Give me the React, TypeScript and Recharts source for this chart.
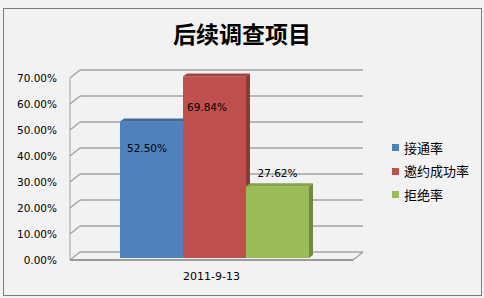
import { ComposedChart, Bar, XAxis, YAxis, CartesianGrid, LabelList } from 'recharts'

const categories = ['2011-9-13']
const seriesNames = ['接通率', '邀约成功率', '拒绝率']
const connectRate = [0.525]
const inviteRate = [0.6984]
const rejectRate = [0.2762]
const yTicks = [0, 0.1, 0.2, 0.3, 0.4, 0.5, 0.6, 0.7]

const data = categories.map((date, i) => ({
  date,
  connect: connectRate[i],
  invite: inviteRate[i],
  reject: rejectRate[i],
}))

const SERIES = [
  { key: 'connect', name: seriesNames[0], front: '#4f81bd', side: '#3b6494', top: '#3f6a9c', dx: -1.5, dy: 24.5 },
  { key: 'invite', name: seriesNames[1], front: '#c0504d', side: '#8c3a38', top: '#a04441', dx: -4.5, dy: 28.6 },
  { key: 'reject', name: seriesNames[2], front: '#9bbb59', side: '#72893f', top: '#86a34a', dx: 3, dy: -15 },
]

const WALL_DX = 10
const WALL_DY = 8
const GRID = '#a3a3a3'
const FONT = '"DejaVu Sans", sans-serif'
const CJK = '"Noto Sans CJK SC", sans-serif'

const pct = (v: number) => `${(v * 100).toFixed(2)}%`

// back wall + left wall + floor, drawn per y tick
const gridLine = (props: any) => {
  const { x1, y1, x2, index } = props
  const floorY = props.y + props.height
  const isFloor = Math.abs(y1 - floorY) < 0.5
  const by = y1 - WALL_DY
  return (
    <g key={`grid-${index}`}>
      <line x1={x1} y1={y1} x2={x1 + WALL_DX} y2={by} stroke={GRID} strokeWidth={1.5} />
      <line x1={x1 + WALL_DX} y1={by} x2={x2 + WALL_DX} y2={by} stroke={GRID} strokeWidth={1.5} />
      {isFloor && (
        <>
          <line x1={x2} y1={y1} x2={x2 + WALL_DX} y2={by} stroke={GRID} strokeWidth={1.5} />
          <line x1={x1} y1={y1} x2={x2} y2={y1} stroke="#9a9a9a" strokeWidth={2} />
        </>
      )}
    </g>
  )
}

const bar3D = (front: string, side: string, top: string) => (props: any) => {
  const { x, y, width, height } = props
  const bx = x + 3
  const by = y - 2
  const d = 4
  const e = 3
  return (
    <g>
      <rect x={bx} y={by} width={width} height={height} fill={front} />
      <polygon
        points={`${bx + width},${by} ${bx + width + d},${by - e} ${bx + width + d},${by + height - e} ${bx + width},${by + height}`}
        fill={side}
      />
      <polygon
        points={`${bx},${by} ${bx + d},${by - e} ${bx + width + d},${by - e} ${bx + width},${by}`}
        fill={top}
      />
    </g>
  )
}

const valueLabel = (dx: number, dy: number) => (props: any) => {
  const { x, y, width, value } = props
  return (
    <text
      x={x + width / 2 + dx}
      y={y + dy}
      textAnchor="middle"
      dominantBaseline="central"
      fontFamily={FONT}
      fontSize={10.5}
      fill="#000"
    >
      {pct(value)}
    </text>
  )
}

export default function App() {
  return (
    <div style={{ position: 'absolute', left: 0, top: 0, width: 484, height: 298, background: '#f2f2f2', overflow: 'hidden' }}>
      <div
        style={{
          position: 'absolute', left: 3, top: 8, width: 477, height: 286,
          border: '1px solid #7c7c7c',
        }}
      />
      <div
        style={{
          position: 'absolute', left: 0, top: 18, width: 484, height: 30, lineHeight: '30px',
          textAlign: 'center', fontFamily: CJK, fontWeight: 700, fontSize: 23, color: '#000',
        }}
      >
        后续调查项目
      </div>
      <div style={{ position: 'absolute', left: 0, top: 0 }}>
        <ComposedChart
          width={484}
          height={298}
          data={data}
          margin={{ top: 78, right: 131, left: 0, bottom: 0 }}
          barGap={0}
          barSize={63}
        >
          <CartesianGrid vertical={false} horizontal={gridLine} />
          <XAxis
            dataKey="date"
            height={38}
            axisLine={false}
            tickLine={false}
            tickSize={0}
            tickMargin={12}
            tick={{ fontFamily: FONT, fontSize: 11, fill: '#000' }}
          />
          <YAxis
            width={70}
            domain={[0, 0.7]}
            ticks={yTicks}
            tickFormatter={pct}
            axisLine={{ stroke: '#a0a0a0' }}
            tickLine={false}
            tickSize={0}
            tickMargin={13}
            tick={{ fontFamily: FONT, fontSize: 10.5, fill: '#000' }}
          />
          {SERIES.map((s) => (
            <Bar
              key={s.key}
              dataKey={s.key}
              name={s.name}
              fill={s.front}
              isAnimationActive={false}
              shape={bar3D(s.front, s.side, s.top)}
            >
              <LabelList dataKey={s.key} content={valueLabel(s.dx, s.dy)} />
            </Bar>
          ))}
        </ComposedChart>
      </div>
      <div style={{ position: 'absolute', left: 392, top: 136 }}>
        {SERIES.map((s) => (
          <div key={s.key} style={{ display: 'flex', alignItems: 'center', height: 23.5 }}>
            <div style={{ width: 7, height: 7, background: s.front, marginRight: 5 }} />
            <span style={{ fontFamily: CJK, fontSize: 13, color: '#000', lineHeight: '16px' }}>{s.name}</span>
          </div>
        ))}
      </div>
    </div>
  )
}
